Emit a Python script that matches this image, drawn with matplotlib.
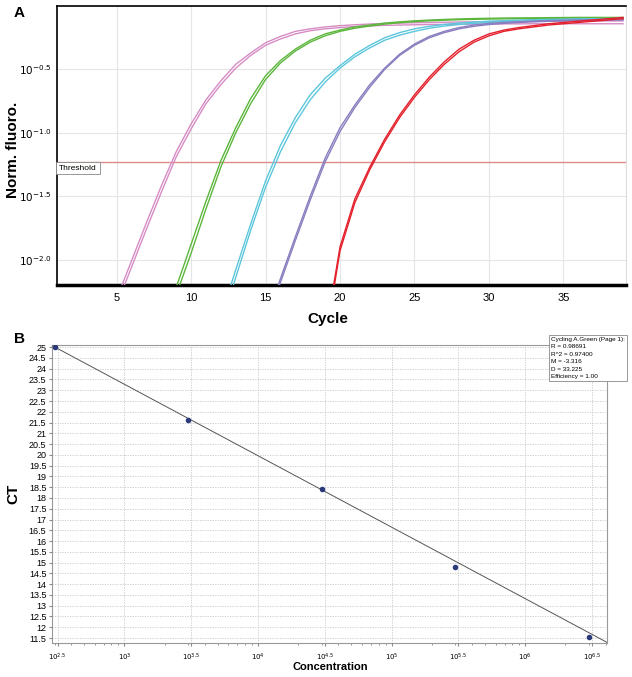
import numpy as np
import matplotlib
matplotlib.use("Agg")
import matplotlib.pyplot as plt
from matplotlib.ticker import FixedLocator, FixedFormatter, NullLocator

plt.rcParams['font.family'] = ['Liberation Sans', 'DejaVu Sans']

# ---- panel A: amplification curves, log10(norm. fluoro.) per cycle ----
pink_start = 5
pink_rep1 = [-2.31, -2.01, -1.71, -1.42, -1.15, -0.93, -0.74, -0.59, -0.46, -0.37,
             -0.29, -0.24, -0.20, -0.18, -0.165, -0.155, -0.148, -0.142, -0.138, -0.135,
             -0.132, -0.13, -0.128, -0.126, -0.125, -0.124, -0.123, -0.122, -0.121, -0.12,
             -0.12, -0.119, -0.119, -0.118, -0.118]
pink_rep2 = [-2.36, -2.06, -1.76, -1.47, -1.19, -0.97, -0.77, -0.62, -0.49, -0.39,
             -0.31, -0.26, -0.22, -0.195, -0.18, -0.17, -0.162, -0.157, -0.153, -0.15,
             -0.148, -0.146, -0.145, -0.144, -0.143, -0.142, -0.141, -0.141, -0.14, -0.14,
             -0.14, -0.14, -0.14, -0.14, -0.14]

green_start = 9
green_rep1 = [-2.22, -1.88, -1.54, -1.22, -0.96, -0.73, -0.55, -0.43, -0.34, -0.27,
              -0.22, -0.19, -0.165, -0.15, -0.135, -0.125, -0.117, -0.111, -0.106, -0.102,
              -0.099, -0.097, -0.095, -0.094, -0.093, -0.092, -0.091, -0.09, -0.09, -0.09,
              -0.09]
green_rep2 = [-2.28, -1.95, -1.60, -1.27, -1.00, -0.77, -0.58, -0.45, -0.355, -0.285,
              -0.235, -0.20, -0.175, -0.158, -0.143, -0.132, -0.123, -0.117, -0.112, -0.108,
              -0.105, -0.103, -0.101, -0.10, -0.10, -0.10, -0.10, -0.10, -0.10, -0.10,
              -0.10]

cyan_start = 12
cyan_rep1 = [-2.45, -2.08, -1.72, -1.38, -1.10, -0.88, -0.70, -0.57, -0.47, -0.38,
             -0.31, -0.25, -0.21, -0.18, -0.16, -0.145, -0.135, -0.127, -0.12, -0.115,
             -0.111, -0.108, -0.105, -0.103, -0.101, -0.10, -0.099, -0.098]
cyan_rep2 = [-2.52, -2.14, -1.77, -1.43, -1.15, -0.92, -0.74, -0.60, -0.49, -0.40,
             -0.33, -0.27, -0.23, -0.20, -0.175, -0.158, -0.146, -0.137, -0.13, -0.124,
             -0.12, -0.116, -0.113, -0.11, -0.108, -0.106, -0.105, -0.104]

purple_start = 15
purple_rep1 = [-2.5, -2.15, -1.82, -1.50, -1.20, -0.96, -0.78, -0.62, -0.49, -0.38,
               -0.30, -0.24, -0.20, -0.17, -0.15, -0.138, -0.13, -0.124, -0.119, -0.115,
               -0.112, -0.11, -0.108, -0.106, -0.104]
purple_rep2 = [-2.53, -2.18, -1.85, -1.53, -1.23, -0.99, -0.80, -0.64, -0.50, -0.39,
               -0.31, -0.25, -0.21, -0.18, -0.16, -0.146, -0.137, -0.13, -0.125, -0.121,
               -0.118, -0.116, -0.114, -0.112, -0.11]

red_start = 19
red_rep1 = [-2.6, -1.90, -1.52, -1.27, -1.05, -0.86, -0.70, -0.56, -0.44, -0.34,
            -0.27, -0.22, -0.19, -0.17, -0.155, -0.14, -0.13, -0.12, -0.11, -0.10,
            -0.09]
red_rep2 = [-2.65, -1.93, -1.55, -1.29, -1.07, -0.88, -0.72, -0.58, -0.46, -0.36,
            -0.285, -0.235, -0.20, -0.18, -0.165, -0.15, -0.14, -0.13, -0.12, -0.11,
            -0.10]

threshold_log = -1.23
a_xticks = [5, 10, 15, 20, 25, 30, 35]
a_yticks_log = [-2.0, -1.5, -1.0, -0.5]
a_ytick_labels = ['$10^{-2.0}$', '$10^{-1.5}$', '$10^{-1.0}$', '$10^{-0.5}$']

# ---- panel B: standard curve ----
concentration = [3e2, 3e3, 3e4, 3e5, 3e6]
ct_values = [25.0, 21.62, 18.43, 14.81, 11.57]
fit_m = -3.316
fit_d = 33.225
stats_lines = ["Cycling A.Green (Page 1):", "R = 0.98691", "R^2 = 0.97400",
               "M = -3.316", "D = 33.225", "Efficiency = 1.00"]
b_xticks_log = [2.5, 3, 3.5, 4, 4.5, 5, 5.5, 6, 6.5]
b_xtick_labels = ['$10^{2.5}$', '$10^{3}$', '$10^{3.5}$', '$10^{4}$', '$10^{4.5}$',
                  '$10^{5}$', '$10^{5.5}$', '$10^{6}$', '$10^{6.5}$']
b_yticks = list(np.arange(11.5, 25.01, 0.5))

W, H = 632, 677
fig = plt.figure(figsize=(W / 100, H / 100), dpi=100)

# ---------------- panel A ----------------
axA = fig.add_axes([57 / W, 1 - 285 / H, 569 / W, 279 / H])
groups = [
    (pink_start, [pink_rep1, pink_rep2], '#d68cc4'),
    (green_start, [green_rep1, green_rep2], '#5cb63c'),
    (cyan_start, [cyan_rep1, cyan_rep2], '#5cc6dc'),
    (purple_start, [purple_rep1, purple_rep2], '#8a7dbf'),
    (red_start, [red_rep1, red_rep2], '#e3202b'),
]
for start, reps, col in groups:
    for rep in reps:
        cyc = np.arange(start, start + len(rep))
        axA.plot(cyc, 10 ** np.array(rep), color=col, lw=1.0, zorder=3)

axA.axhline(10 ** threshold_log, color='#e08a8c', lw=1.0, zorder=2)
axA.text(1.15, 10 ** (threshold_log - 0.02), 'Threshold', fontsize=6, va='top', ha='left',
         bbox=dict(boxstyle='square,pad=0.35', fc='white', ec='#888888', lw=0.6), zorder=4)

axA.set_yscale('log')
axA.set_xlim(1, 39.2)
axA.set_ylim(10 ** -2.2, 1.0)
axA.xaxis.set_major_locator(FixedLocator(a_xticks))
axA.yaxis.set_major_locator(FixedLocator([10 ** v for v in a_yticks_log]))
axA.yaxis.set_major_formatter(FixedFormatter(a_ytick_labels))
axA.yaxis.set_minor_locator(NullLocator())
axA.tick_params(axis='both', labelsize=8, length=0, pad=6)
axA.tick_params(axis='y', labelsize=7.5, pad=4)
axA.grid(True, color='#e6e6e6', lw=0.8)
axA.set_axisbelow(True)
axA.spines['top'].set_linewidth(1.2)
axA.spines['left'].set_linewidth(1.2)
axA.spines['bottom'].set_linewidth(2.5)
axA.spines['right'].set_color('#dddddd')
axA.set_xlabel('Cycle', fontsize=11, fontweight='bold')
axA.set_ylabel('Norm. fluoro.', fontsize=11, fontweight='bold')
axA.xaxis.set_label_coords((328 - 57) / 569, -(319 - 285) / 279)
axA.yaxis.set_label_coords(-(57 - 13) / 569, (285 - 150) / 279)
axA.xaxis.label.set_va('center')
axA.yaxis.label.set_va('center')
fig.text(14 / W, 1 - 13 / H, 'A', fontsize=11, fontweight='bold', va='center')

# ---------------- panel B ----------------
axB = fig.add_axes([52 / W, 1 - 643 / H, 555 / W, 298 / H])
axB.set_xscale('log')
xlo, xhi = 10 ** 2.458, 10 ** 6.612
xs = np.array([xlo, xhi])
axB.plot(xs, fit_m * np.log10(xs) + fit_d, color='#555555', lw=0.7, zorder=3)
axB.scatter(concentration, ct_values, s=9, color='#2c3a7a', zorder=4)
axB.set_xlim(xlo, xhi)
axB.set_ylim(11.27, 25.1)
axB.xaxis.set_major_locator(FixedLocator([10 ** v for v in b_xticks_log]))
axB.xaxis.set_major_formatter(FixedFormatter(b_xtick_labels))
axB.yaxis.set_major_locator(FixedLocator(b_yticks))
axB.yaxis.set_major_formatter(FixedFormatter(['%g' % v for v in b_yticks]))
axB.tick_params(axis='x', labelsize=5, length=2, color='#888888', pad=4)
axB.tick_params(axis='y', labelsize=6.5, length=2, color='#888888', pad=2)
axB.tick_params(axis='x', which='minor', length=1.5, color='#888888')
axB.xaxis.set_minor_formatter(FixedFormatter([]))
axB.grid(True, which='major', color='#c8c8c8', lw=0.6, ls=(0, (1.5, 1.5)))
axB.set_axisbelow(True)
for s in axB.spines.values():
    s.set_color('#999999')
    s.set_linewidth(0.8)
axB.set_xlabel('Concentration', fontsize=8, fontweight='bold')
axB.set_ylabel('CT', fontsize=11, fontweight='bold')
axB.xaxis.set_label_coords((330 - 52) / 555, -(667 - 643) / 298)
axB.yaxis.set_label_coords(-(52 - 13) / 555, (643 - 494) / 298)
axB.xaxis.label.set_va('center')
axB.yaxis.label.set_va('center')
fig.text(14 / W, 1 - 339 / H, 'B', fontsize=11, fontweight='bold', va='center')

fig.text(551 / W, 1 - 337 / H, '\n'.join(stats_lines), fontsize=4.6, va='top', ha='left',
         linespacing=1.6,
         bbox=dict(boxstyle='square,pad=0.3', fc='white', ec='#888888', lw=0.6))

fig.savefig('out.png', dpi=100)
